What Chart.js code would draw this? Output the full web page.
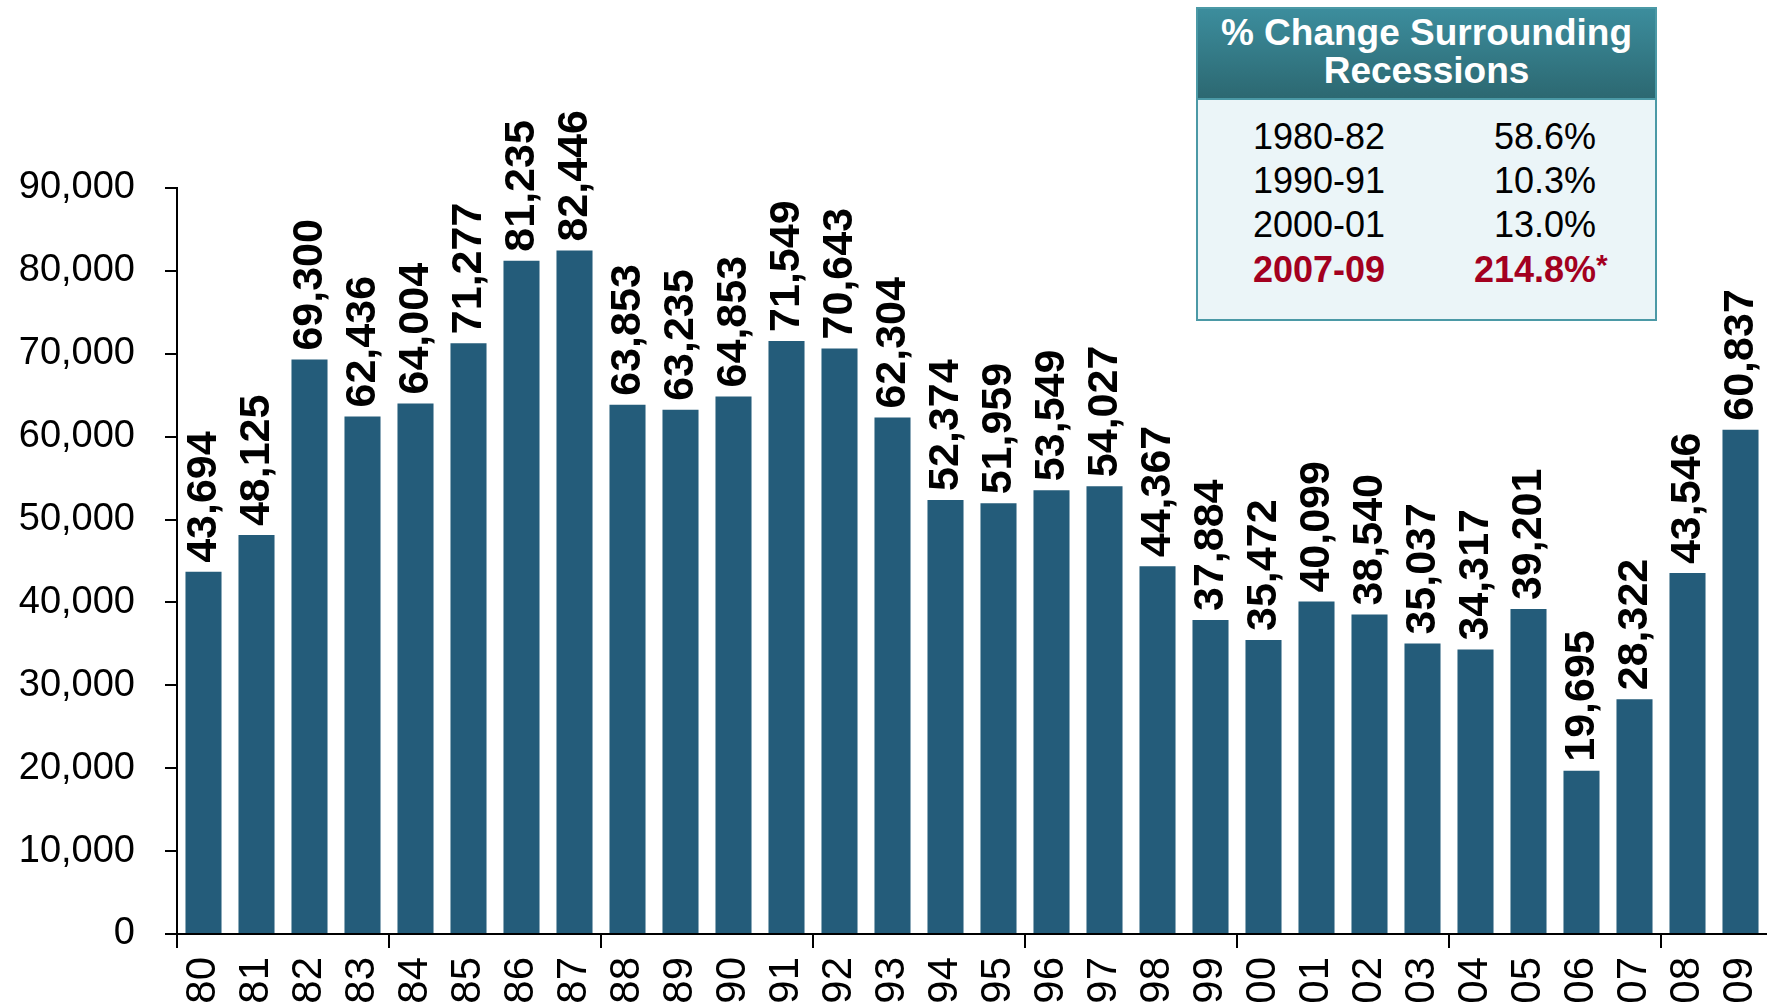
<!DOCTYPE html>
<html>
<head>
<meta charset="utf-8">
<script src="https://cdn.jsdelivr.net/npm/chart.js@4.4.1/dist/chart.umd.min.js"></script>
<style>
  html, body { margin: 0; padding: 0; background: #fff; overflow: hidden; }
  #wrap { position: relative; width: 1767px; height: 1006px; font-family: "Liberation Sans", Arial, sans-serif; }
  #box { position: absolute; left: 1196px; top: 7px; width: 457px; height: 310px; border: 2px solid #4b99a6; background: #ebf5f8; }
  #box .hd { position: absolute; left: 0; top: 0; width: 100%; height: 91px; background: linear-gradient(#3c8d9d, #2c6871); border-bottom: 2px solid #4b99a6; box-sizing: border-box; }
  #box .hl { position: absolute; left: 0; width: 100%; text-align: center; color: #fff; font-weight: bold; font-size: 37px; line-height: 1; white-space: nowrap; }
  #box .row { position: absolute; left: 0; width: 100%; font-size: 36px; line-height: 1; color: #000; white-space: nowrap; }
  #box .c1 { position: absolute; left: 55px; top: 0; }
  #box .c2 { position: absolute; right: 59px; top: 0; text-align: right; }
  #box .red { color: #a3001f; font-weight: bold; }
</style>
</head>
<body>
<div id="wrap">
  <canvas id="c"></canvas>
  <div id="box">
    <div class="hd">
      <div class="hl" style="top:5px">% Change Surrounding</div>
      <div class="hl" style="top:43px">Recessions</div>
    </div>
  </div>
</div>
<script>
const categories = ["80","81","82","83","84","85","86","87","88","89","90","91","92","93","94","95","96","97","98","99","00","01","02","03","04","05","06","07","08","09"];
const values = [43694,48125,69300,62436,64004,71277,81235,82446,63853,63235,64853,71549,70643,62304,52374,51959,53549,54027,44367,37884,35472,40099,38540,35037,34317,39201,19695,28322,43546,60837];
const yTicks = [0,10000,20000,30000,40000,50000,60000,70000,80000,90000];
const tablePeriods = ["1980-82","1990-91","2000-01","2007-09"];
const tableChanges = ["58.6%","10.3%","13.0%","214.8%"];

// build side table
const box = document.getElementById('box');
const rowTops = [110, 154, 198, 243];
tablePeriods.forEach((p, i) => {
  const r = document.createElement('div');
  r.className = 'row' + (i === 3 ? ' red' : '');
  r.style.top = rowTops[i] + 'px';
  const a = document.createElement('span'); a.className = 'c1'; a.textContent = p;
  const b = document.createElement('span'); b.className = 'c2'; b.textContent = tableChanges[i];
  if (i === 3) {
    const s = document.createElement('span');
    s.textContent = '*';
    s.style.position = 'absolute'; s.style.left = '100%'; s.style.top = '-2px'; s.style.fontSize = '30px';
    b.appendChild(s);
  }
  r.appendChild(a); r.appendChild(b);
  box.appendChild(r);
});

const FONT = '"Liberation Sans", Arial, sans-serif';
const BAR = '#245c7a';

const labelPlugin = {
  id: 'barLabels',
  afterDatasetsDraw(chart) {
    const ctx = chart.ctx;
    const meta = chart.getDatasetMeta(0);
    ctx.save();
    ctx.font = 'bold 43px ' + FONT;
    ctx.fillStyle = '#000';
    ctx.textAlign = 'left';
    ctx.textBaseline = 'middle';
    meta.data.forEach((bar, i) => {
      ctx.save();
      ctx.translate(bar.x + 1, bar.y - 9);
      ctx.rotate(-Math.PI / 2);
      ctx.fillText(values[i].toLocaleString('en-US'), 0, 0);
      ctx.restore();
    });
    ctx.restore();
  }
};

new Chart(document.getElementById('c'), {
  type: 'bar',
  data: {
    labels: categories,
    datasets: [{ data: values, backgroundColor: BAR, barPercentage: 0.68, categoryPercentage: 1.0 }]
  },
  options: {
    responsive: true,
    maintainAspectRatio: false,
    animation: false,
    events: [],
    layout: { padding: { top: 188, left: 0, right: 0, bottom: 0 } },
    plugins: { legend: { display: false }, tooltip: { enabled: false } },
    scales: {
      x: {
        offset: true,
        grid: {
          offset: true,
          drawOnChartArea: false,
          drawTicks: true,
          tickLength: 14,
          lineWidth: 2,
          color: (c) => (c.index % 4 === 0 ? '#000' : 'rgba(0,0,0,0)')
        },
        border: { display: true, color: '#000', width: 2 },
        ticks: {
          autoSkip: false,
          minRotation: 90,
          maxRotation: 90,
          padding: 9,
          color: '#000',
          font: { family: FONT, size: 42 }
        },
        afterFit(s) { s.height = 72; s.paddingLeft = 0; s.paddingRight = 0; }
      },
      y: {
        min: 0,
        max: 90000,
        afterBuildTicks(s) { s.ticks = yTicks.map(v => ({ value: v })); },
        grid: {
          drawOnChartArea: false,
          drawTicks: true,
          tickLength: 12,
          lineWidth: 2,
          color: '#000'
        },
        border: { display: true, color: '#000', width: 2 },
        ticks: {
          padding: 30,
          color: '#000',
          font: { family: FONT, size: 38 },
          callback: (v) => Number(v).toLocaleString('en-US')
        },
        afterFit(s) { s.width = 177; s.paddingTop = 0; s.paddingBottom = 0; }
      }
    }
  },
  plugins: [labelPlugin]
});
</script>
</body>
</html>
